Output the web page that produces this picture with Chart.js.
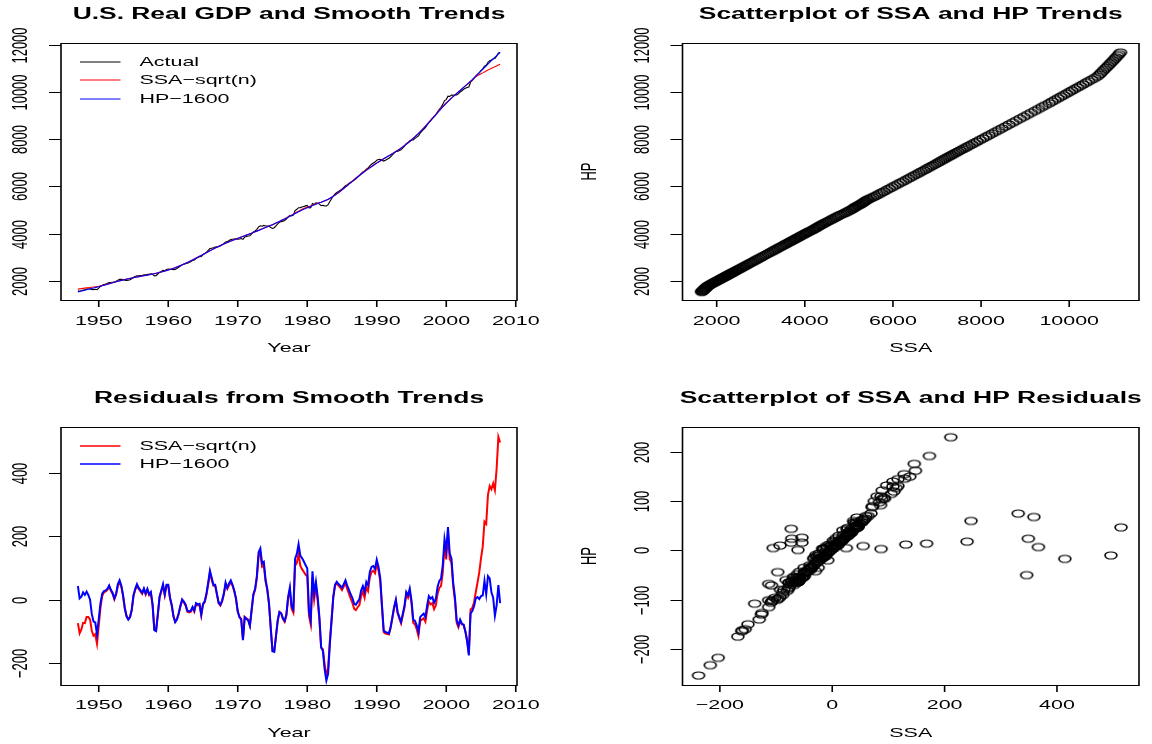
<!DOCTYPE html>
<html>
<head>
<meta charset="utf-8">
<title>SSA and HP trends</title>
<script src="https://cdn.jsdelivr.net/npm/chart.js@4.4.1/dist/chart.umd.min.js"></script>
<style>
  html, body { margin: 0; padding: 0; background: #fff; }
  #wrap { position: relative; width: 1152px; height: 744px; }
  #wrap canvas { position: absolute; }
</style>
</head>
<body>
<div id="wrap">
  <canvas id="gdp" width="576" height="372" style="left:0;top:0"></canvas>
  <canvas id="trendScatter" width="576" height="372" style="left:576px;top:0"></canvas>
  <canvas id="resid" width="576" height="372" style="left:0;top:372px"></canvas>
  <canvas id="residScatter" width="576" height="372" style="left:576px;top:372px"></canvas>
</div>
<script>
// quarterly, 1947Q1 .. 2007Q4
const firstYear = 1947;

const actual = [
  1584, 1563, 1586, 1618, 1628, 1656, 1664, 1667,
  1641, 1636, 1651, 1633, 1700, 1772, 1822, 1851,
  1875, 1901, 1932, 1939, 1950, 1953, 1988, 2038,
  2069, 2070, 2058, 2036, 2026, 2032, 2055, 2096,
  2156, 2190, 2219, 2221, 2226, 2232, 2260, 2258,
  2285, 2283, 2305, 2279, 2213, 2227, 2297, 2370,
  2408, 2449, 2438, 2488, 2510, 2495, 2497, 2484,
  2493, 2530, 2580, 2633, 2684, 2710, 2734, 2748,
  2781, 2820, 2868, 2893, 2956, 2991, 3031, 3036,
  3110, 3158, 3220, 3295, 3372, 3387, 3403, 3440,
  3449, 3456, 3483, 3531, 3586, 3652, 3667, 3712,
  3752, 3766, 3778, 3781, 3768, 3776, 3797, 3760,
  3858, 3881, 3905, 3915, 3994, 4071, 4116, 4185,
  4290, 4332, 4315, 4350, 4325, 4326, 4311, 4264,
  4223, 4254, 4337, 4420, 4481, 4513, 4533, 4561,
  4620, 4712, 4780, 4757, 4786, 4983, 5034, 5102,
  5104, 5131, 5155, 5178, 5200, 5096, 5097, 5282,
  5240, 5306, 5289, 5253, 5184, 5206, 5180, 5176,
  5227, 5361, 5478, 5594, 5681, 5743, 5788, 5836,
  5891, 5962, 6034, 6076, 6128, 6175, 6223, 6266,
  6325, 6392, 6458, 6544, 6615, 6650, 6736, 6779,
  6872, 6939, 6992, 7034, 7112, 7137, 7148, 7110,
  7073, 7112, 7154, 7195, 7255, 7331, 7408, 7476,
  7481, 7516, 7551, 7628, 7708, 7809, 7857, 7937,
  7964, 7970, 8032, 8085, 8135, 8256, 8336, 8415,
  8484, 8602, 8711, 8784, 8876, 8941, 9036, 9156,
  9262, 9348, 9471, 9632, 9673, 9820, 9808, 9865,
  9854, 9874, 9867, 9917, 9996, 10048, 10111, 10154,
  10186, 10209, 10410, 10485, 10572, 10669, 10745, 10811,
  10897, 10972, 11092, 11123, 11253, 11317, 11345, 11399,
  11410, 11513, 11647, 11660
];

const ssaTrend = [
  1657, 1668, 1679, 1690, 1701, 1710, 1718, 1728,
  1738, 1749, 1759, 1771, 1782, 1796, 1810, 1827,
  1848, 1869, 1889, 1910, 1931, 1951, 1971, 1991,
  2010, 2028, 2046, 2064, 2081, 2097, 2113, 2129,
  2144, 2158, 2172, 2186, 2199, 2213, 2227, 2241,
  2253, 2268, 2283, 2297, 2311, 2328, 2345, 2363,
  2381, 2402, 2423, 2443, 2465, 2490, 2515, 2539,
  2566, 2595, 2625, 2654, 2685, 2718, 2752, 2785,
  2820, 2857, 2893, 2930, 2969, 3008, 3046, 3085,
  3125, 3165, 3203, 3243, 3283, 3320, 3358, 3395,
  3432, 3467, 3501, 3536, 3569, 3600, 3632, 3663,
  3693, 3721, 3751, 3779, 3806, 3834, 3862, 3890,
  3916, 3944, 3972, 4000, 4027, 4056, 4084, 4113,
  4152, 4184, 4210, 4240, 4266, 4295, 4323, 4352,
  4383, 4415, 4450, 4485, 4519, 4555, 4593, 4630,
  4669, 4707, 4748, 4785, 4826, 4875, 4917, 4956,
  4996, 5034, 5066, 5098, 5125, 5146, 5174, 5210,
  5238, 5264, 5291, 5316, 5334, 5361, 5383, 5414,
  5444, 5491, 5539, 5584, 5636, 5690, 5743, 5797,
  5860, 5920, 5981, 6041, 6108, 6171, 6232, 6294,
  6357, 6415, 6474, 6532, 6589, 6643, 6697, 6751,
  6801, 6851, 6900, 6950, 6998, 7044, 7088, 7133,
  7175, 7218, 7261, 7304, 7343, 7388, 7433, 7479,
  7523, 7575, 7625, 7677, 7731, 7791, 7850, 7910,
  7975, 8042, 8109, 8177, 8248, 8323, 8398, 8473,
  8553, 8635, 8716, 8798, 8886, 8970, 9053, 9137,
  9224, 9304, 9384, 9459, 9545, 9609, 9679, 9748,
  9811, 9875, 9939, 10003, 10062, 10125, 10189, 10252,
  10312, 10377, 10440, 10510, 10580, 10644, 10690, 10724,
  10766, 10804, 10845, 10883, 10922, 10958, 10996, 11032,
  11064, 11099, 11133, 11164
];

const hpTrend = [
  1540, 1558, 1576, 1594, 1612, 1630, 1648, 1666,
  1685, 1704, 1722, 1741, 1760, 1782, 1802, 1823,
  1845, 1866, 1886, 1907, 1928, 1948, 1968, 1988,
  2007, 2025, 2043, 2061, 2078, 2094, 2110, 2126,
  2141, 2155, 2169, 2183, 2196, 2210, 2224, 2238,
  2250, 2265, 2280, 2294, 2308, 2325, 2342, 2360,
  2378, 2399, 2420, 2440, 2462, 2487, 2512, 2536,
  2563, 2592, 2622, 2651, 2682, 2715, 2749, 2782,
  2817, 2854, 2890, 2927, 2966, 3005, 3043, 3082,
  3122, 3162, 3200, 3240, 3280, 3317, 3355, 3392,
  3429, 3464, 3498, 3533, 3566, 3597, 3629, 3660,
  3690, 3718, 3748, 3776, 3803, 3831, 3859, 3887,
  3913, 3941, 3969, 3997, 4024, 4053, 4081, 4110,
  4140, 4170, 4200, 4230, 4260, 4291, 4323, 4354,
  4385, 4418, 4452, 4485, 4519, 4555, 4591, 4627,
  4665, 4702, 4740, 4777, 4816, 4853, 4889, 4926,
  4964, 4999, 5033, 5068, 5100, 5131, 5162, 5192,
  5220, 5249, 5279, 5308, 5334, 5366, 5398, 5430,
  5460, 5501, 5543, 5584, 5633, 5686, 5738, 5791,
  5853, 5912, 5972, 6031, 6096, 6157, 6217, 6278,
  6340, 6398, 6456, 6514, 6571, 6625, 6679, 6733,
  6784, 6835, 6885, 6936, 6985, 7032, 7078, 7125,
  7169, 7213, 7257, 7301, 7340, 7385, 7430, 7475,
  7519, 7570, 7620, 7671, 7725, 7784, 7842, 7901,
  7965, 8032, 8098, 8165, 8236, 8310, 8384, 8458,
  8538, 8619, 8699, 8780, 8867, 8950, 9032, 9115,
  9202, 9281, 9361, 9440, 9518, 9590, 9662, 9734,
  9799, 9865, 9931, 9997, 10058, 10123, 10189, 10254,
  10316, 10384, 10452, 10520, 10592, 10664, 10736, 10808,
  10885, 10958, 11032, 11105, 11178, 11249, 11321, 11392,
  11460, 11530, 11600, 11670
];

const ssaResid = [
  -73, -105, -93, -72, -73, -54, -54, -61,
  -97, -113, -108, -138, -82, -24, 12, 24,
  27, 32, 43, 29, 19, 2, 17, 44,
  56, 42, 12, -28, -50, -60, -53, -33,
  12, 32, 44, 35, 27, 19, 33, 17,
  32, 15, 22, -18, -93, -96, -48, 7,
  27, 44, 15, 45, 45, 5, -18, -50,
  -68, -60, -45, -21, -1, -8, -18, -37,
  -39, -37, -25, -37, -13, -17, -15, -49,
  -15, -7, 17, 49, 86, 64, 45, 45,
  17, -11, -18, -5, 17, 49, 35, 46,
  56, 45, 27, 2, -38, -53, -60, -125,
  -53, -58, -62, -80, -33, 15, 32, 69,
  138, 148, 105, 110, 59, 31, -12, -88,
  -160, -161, -113, -65, -38, -42, -60, -69,
  -49, 5, 32, -28, -40, 108, 117, 146,
  108, 97, 89, 80, 75, -50, -77, 72,
  2, 42, -2, -63, -150, -155, -203, -238,
  -217, -130, -61, 10, 45, 53, 45, 39,
  31, 42, 53, 35, 20, 4, -9, -28,
  -32, -23, -16, 12, 26, 7, 39, 28,
  71, 88, 92, 84, 114, 93, 60, -23,
  -102, -106, -107, -109, -88, -57, -25, -3,
  -42, -59, -74, -49, -23, 18, 7, 27,
  -11, -72, -77, -92, -113, -67, -62, -58,
  -69, -33, -5, -14, -10, -29, -17, 19,
  38, 44, 87, 173, 128, 211, 129, 117,
  43, -1, -72, -86, -66, -77, -78, -98,
  -126, -168, -30, -25, -8, 25, 55, 87,
  131, 168, 247, 240, 331, 359, 349, 367,
  346, 414, 514, 496
];

const hpResid = [
  44, 5, 10, 24, 16, 26, 16, 1,
  -44, -68, -71, -108, -60, -10, 20, 28,
  30, 35, 46, 32, 22, 5, 20, 50,
  62, 45, 15, -25, -52, -62, -55, -30,
  15, 35, 50, 38, 30, 22, 36, 20,
  35, 18, 25, -15, -95, -98, -45, 10,
  30, 50, 18, 48, 48, 8, -15, -52,
  -70, -62, -42, -18, 2, -5, -15, -34,
  -36, -34, -22, -34, -10, -14, -12, -46,
  -12, -4, 20, 55, 92, 70, 48, 48,
  20, -8, -15, -2, 20, 55, 38, 52,
  62, 48, 30, 5, -35, -55, -62, -127,
  -55, -60, -64, -82, -30, 18, 35, 75,
  150, 162, 115, 120, 65, 35, -12, -90,
  -162, -164, -115, -65, -38, -42, -58, -66,
  -45, 10, 40, -20, -30, 130, 145, 176,
  140, 132, 122, 110, 100, -35, -65, 90,
  20, 57, 10, -55, -150, -160, -218, -254,
  -233, -140, -65, 10, 48, 57, 50, 45,
  38, 50, 62, 45, 32, 18, 6, -12,
  -15, -6, 2, 30, 44, 25, 57, 46,
  88, 104, 107, 98, 127, 105, 70, -15,
  -96, -101, -103, -106, -85, -54, -22, 1,
  -38, -54, -69, -43, -17, 25, 15, 36,
  -1, -62, -66, -80, -101, -54, -48, -43,
  -54, -17, 12, 4, 9, -9, 4, 41,
  60, 67, 110, 192, 155, 230, 146, 131,
  55, 9, -64, -80, -62, -75, -78, -100,
  -130, -175, -42, -35, -20, 5, 9, 3,
  12, 14, 60, 18, 75, 68, 24, 7,
  -50, -17, 47, -10
];

const yearTicks = [1950, 1960, 1970, 1980, 1990, 2000, 2010];
const gdpTicks = [2000, 4000, 6000, 8000, 10000, 12000];
const ssaTrendTicks = [2000, 4000, 6000, 8000, 10000];
const residTicks = [-200, 0, 200, 400];
const residXTicks = [-200, 0, 200, 400];
const residYTicks = [-200, -100, 0, 100, 200];

const years = actual.map((v, i) => firstYear + i / 4);

// the reference picture is stretched sideways, text and circles too
const SX = 1.65;
const FAMILY = '"Liberation Sans", Arial, Helvetica, sans-serif';
const TITLE_FONT = 'bold 16px ' + FAMILY;
const TEXT_FONT = '13px ' + FAMILY;

function pts(xs, ys) {
  return xs.map((x, i) => ({ x: x, y: ys[i] }));
}

function fmt(v) {
  return v < 0 ? '\u2212' + Math.abs(v) : String(v);
}

function sText(ctx, txt, x, y, font, rotate, align) {
  ctx.save();
  ctx.translate(x, y);
  ctx.scale(SX, 1);
  if (rotate) ctx.rotate(-Math.PI / 2);
  ctx.font = font;
  ctx.fillStyle = '#000';
  ctx.textAlign = align || 'center';
  ctx.textBaseline = 'middle';
  ctx.fillText(txt, 0, 0);
  ctx.restore();
}

function seg(ctx, x1, y1, x2, y2) {
  ctx.beginPath();
  ctx.moveTo(x1, y1);
  ctx.lineTo(x2, y2);
  ctx.stroke();
}

// open circle, R pch = 1
function ring() {
  const r = 3.6;
  const c = document.createElement('canvas');
  c.width = 16;
  c.height = 11;
  const g = c.getContext('2d');
  g.translate(8, 5.5);
  g.scale(SX, 1);
  g.beginPath();
  g.arc(0, 0, r, 0, Math.PI * 2);
  g.lineWidth = 1;
  g.strokeStyle = '#000';
  g.stroke();
  return c;
}

const rAxes = {
  id: 'rAxes',
  afterDraw(chart, args, o) {
    const ctx = chart.ctx, a = chart.chartArea;
    const xs = chart.scales.x, ys = chart.scales.y;
    ctx.save();
    ctx.strokeStyle = '#000';
    ctx.lineWidth = 1;
    seg(ctx, a.left, a.top + 0.5, a.right, a.top + 0.5);
    seg(ctx, a.left, a.bottom + 0.5, a.right, a.bottom + 0.5);
    ctx.lineWidth = 1.6;
    seg(ctx, a.left, a.top, a.left, a.bottom + 1);
    seg(ctx, a.right, a.top, a.right, a.bottom + 1);

    o.xTicks.forEach(v => {
      const px = xs.getPixelForValue(v);
      seg(ctx, px, a.bottom, px, a.bottom + 7);
      sText(ctx, fmt(v), px, o.xTickY, TEXT_FONT);
    });
    ctx.lineWidth = 1;
    o.yTicks.forEach(v => {
      const py = Math.round(ys.getPixelForValue(v)) + 0.5;
      seg(ctx, a.left - 12, py, a.left, py);
      sText(ctx, fmt(v), o.yTickX, py, TEXT_FONT, true);
    });

    const cx = (a.left + a.right) / 2;
    sText(ctx, o.title, cx, o.titleY, TITLE_FONT);
    sText(ctx, o.xTitle, cx, o.xTitleY, TEXT_FONT);
    if (o.yTitle) sText(ctx, o.yTitle, o.yTitleX, (a.top + a.bottom) / 2, TEXT_FONT, true);

    (o.legend || []).forEach(it => {
      ctx.strokeStyle = it.color;
      ctx.lineWidth = it.width;
      seg(ctx, 80, it.y, 120.5, it.y);
      sText(ctx, it.label, 139.5, it.y, TEXT_FONT, false, 'left');
    });
    ctx.restore();
  }
};

function makeChart(id, type, datasets, lim, pad, axes) {
  return new Chart(document.getElementById(id), {
    type: type,
    data: { datasets: datasets },
    options: {
      responsive: false,
      animation: false,
      devicePixelRatio: 1,
      events: [],
      layout: { padding: pad },
      scales: {
        x: { type: 'linear', display: false, min: lim[0], max: lim[1] },
        y: { type: 'linear', display: false, min: lim[2], max: lim[3] }
      },
      plugins: { legend: { display: false }, tooltip: { enabled: false }, rAxes: axes }
    },
    plugins: [rAxes]
  });
}

const circle = ring();

function lineSet(label, xs, ys, color, width, order) {
  return {
    label: label, data: pts(xs, ys), borderColor: color, borderWidth: width,
    pointRadius: 0, tension: 0, fill: false, order: order
  };
}

function dotSet(label, xs, ys) {
  return {
    label: label, data: pts(xs, ys), showLine: false,
    pointStyle: circle, pointRadius: 3
  };
}

makeChart('gdp', 'line', [
  lineSet('Actual', years, actual, '#000000', 1.1, 3),
  lineSet('SSA-sqrt(n)', years, ssaTrend, '#ff0000', 1.1, 2),
  lineSet('HP-1600', years, hpTrend, '#0000ff', 1.1, 1)
], [1944.57, 2010.18, 1197, 12068], { left: 61, right: 59, top: 43, bottom: 72 }, {
  title: 'U.S. Real GDP and Smooth Trends', titleY: 15,
  xTitle: 'Year', xTitleY: 348,
  xTicks: yearTicks, xTickY: 321, yTicks: gdpTicks, yTickX: 21,
  legend: [
    { label: 'Actual', color: '#000000', width: 1, y: 62 },
    { label: 'SSA\u2212sqrt(n)', color: '#ff0000', width: 1, y: 80 },
    { label: 'HP\u22121600', color: '#0000ff', width: 1, y: 99 }
  ]
});

makeChart('trendScatter', 'scatter', [
  dotSet('trends', ssaTrend, hpTrend)
], [1224, 11584, 1197, 12068], { left: 106.5, right: 13, top: 43, bottom: 72 }, {
  title: 'Scatterplot of SSA and HP Trends', titleY: 15,
  xTitle: 'SSA', xTitleY: 348, yTitle: 'HP', yTitleX: 14.5,
  xTicks: ssaTrendTicks, xTickY: 321, yTicks: gdpTicks, yTickX: 67
});

makeChart('resid', 'line', [
  lineSet('SSA-sqrt(n)', years, ssaResid, '#ff0000', 2, 2),
  lineSet('HP-1600', years, hpResid, '#0000ff', 2, 1)
], [1944.57, 2010.18, -268, 545], { left: 61, right: 59, top: 55, bottom: 59 }, {
  title: 'Residuals from Smooth Trends', titleY: 27,
  xTitle: 'Year', xTitleY: 361,
  xTicks: yearTicks, xTickY: 333, yTicks: residTicks, yTickX: 21,
  legend: [
    { label: 'SSA\u2212sqrt(n)', color: '#ff0000', width: 1.5, y: 74 },
    { label: 'HP\u22121600', color: '#0000ff', width: 1.5, y: 92 }
  ]
});

makeChart('residScatter', 'scatter', [
  dotSet('residuals', ssaResid, hpResid)
], [-266.5, 546, -273.3, 250.8], { left: 106.5, right: 13, top: 55, bottom: 59 }, {
  title: 'Scatterplot of SSA and HP Residuals', titleY: 27,
  xTitle: 'SSA', xTitleY: 361, yTitle: 'HP', yTitleX: 14.5,
  xTicks: residXTicks, xTickY: 333, yTicks: residYTicks, yTickX: 67
});
</script>
</body>
</html>
